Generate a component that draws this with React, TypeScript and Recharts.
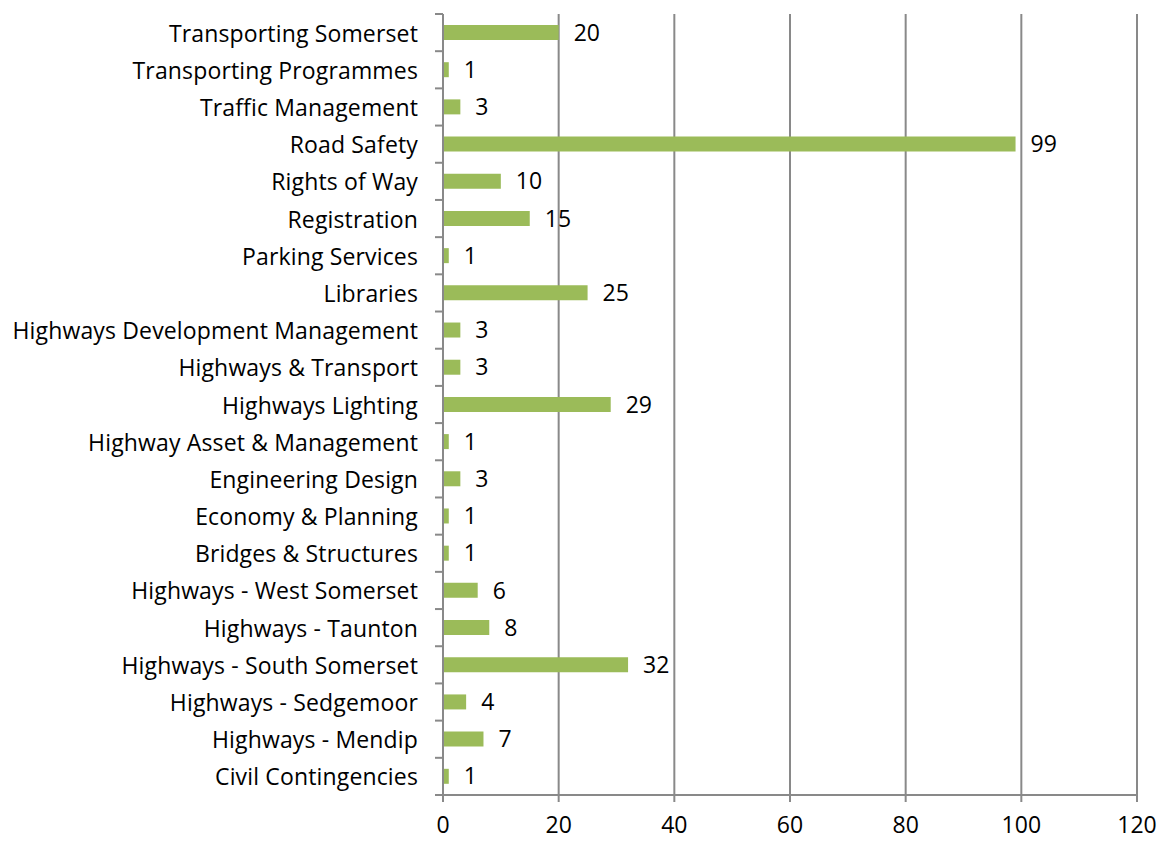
import { BarChart, Bar, XAxis, YAxis, CartesianGrid, LabelList } from 'recharts'

const categories = [
  'Transporting Somerset',
  'Transporting Programmes',
  'Traffic Management',
  'Road Safety',
  'Rights of Way',
  'Registration',
  'Parking Services',
  'Libraries',
  'Highways Development Management',
  'Highways & Transport',
  'Highways Lighting',
  'Highway Asset & Management',
  'Engineering Design',
  'Economy & Planning',
  'Bridges & Structures',
  'Highways - West Somerset',
  'Highways - Taunton',
  'Highways - South Somerset',
  'Highways - Sedgemoor',
  'Highways - Mendip',
  'Civil Contingencies',
]

const counts = [20, 1, 3, 99, 10, 15, 1, 25, 3, 3, 29, 1, 3, 1, 1, 6, 8, 32, 4, 7, 1]

const xTicks = [0, 20, 40, 60, 80, 100, 120]

const data = categories.map((name, i) => ({ name, value: counts[i] }))

const W = 1160
const H = 841
const TOP = 14
const BOTTOM_AXIS = 46
const AXIS_COLOR = '#898989'
const BAR_COLOR = '#9BBB59'
const FONT = '"Open Sans", sans-serif'
const FONT_SIZE = 23
const TICK_SIZE = 8
const TICK_MARGIN = 17

const BAND = (H - TOP - BOTTOM_AXIS) / categories.length

type TickProps = {
  x?: number
  y?: number
  index?: number
  payload?: { value: string }
}

// category labels centred in the band, tick marks on the band edges
function CategoryTick(props: TickProps) {
  const x = props.x ?? 0
  const y = props.y ?? 0
  const lx = x + TICK_MARGIN
  const last = props.index === categories.length - 1
  return (
    <g>
      <text
        x={x}
        y={y}
        textAnchor="end"
        dominantBaseline="central"
        fill="#000"
        fontSize={FONT_SIZE}
        fontFamily={FONT}
        letterSpacing={0.15}
      >
        {props.payload?.value}
      </text>
      <line x1={lx} x2={lx + TICK_SIZE} y1={y - BAND / 2} y2={y - BAND / 2} stroke={AXIS_COLOR} strokeWidth={2} />
      {last && (
        <line x1={lx} x2={lx + TICK_SIZE} y1={y + BAND / 2} y2={y + BAND / 2} stroke={AXIS_COLOR} strokeWidth={2} />
      )}
    </g>
  )
}

export default function App() {
  return (
    <div style={{ position: 'absolute', left: 0, top: 0, width: W, height: H, background: '#fff' }}>
      <BarChart
        width={W}
        height={H}
        data={data}
        layout="vertical"
        margin={{ top: TOP, right: 23, bottom: 0, left: 0 }}
      >
        <CartesianGrid horizontal={false} vertical stroke={AXIS_COLOR} strokeWidth={2} />
        <XAxis
          type="number"
          domain={[0, 120]}
          ticks={xTicks}
          interval={0}
          height={BOTTOM_AXIS}
          axisLine={{ stroke: AXIS_COLOR, strokeWidth: 2 }}
          tickLine={{ stroke: AXIS_COLOR, strokeWidth: 2 }}
          tickSize={7}
          tickMargin={15}
          tick={{ fill: '#000', fontSize: FONT_SIZE, fontFamily: FONT }}
        />
        <YAxis
          type="category"
          dataKey="name"
          width={443}
          interval={0}
          axisLine={{ stroke: AXIS_COLOR, strokeWidth: 2 }}
          tickLine={false}
          tickSize={TICK_SIZE}
          tickMargin={TICK_MARGIN}
          tick={<CategoryTick />}
        />
        <Bar dataKey="value" fill={BAR_COLOR} barSize={15} isAnimationActive={false}>
          <LabelList
            dataKey="value"
            position="right"
            offset={15}
            fill="#000"
            fontSize={FONT_SIZE}
            fontFamily={FONT}
          />
        </Bar>
      </BarChart>
    </div>
  )
}
